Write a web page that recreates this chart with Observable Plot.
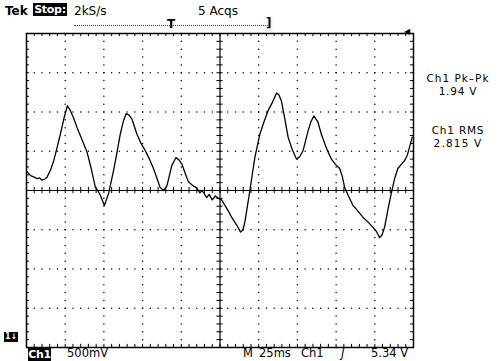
<!DOCTYPE html>
<html><head><meta charset="utf-8">
<script src="https://cdn.jsdelivr.net/npm/d3@7"></script>
<script src="https://cdn.jsdelivr.net/npm/@observablehq/plot@0.6"></script>
<style>
body{margin:0;background:#fff;}
#wrap{position:relative;width:499px;height:361px;font-family:"DejaVu Sans",sans-serif;color:#000;overflow:hidden;background:#fff}
#wrap svg{position:absolute;left:0;top:0}
.t{position:absolute;white-space:nowrap;line-height:12px;font-size:12px}
.inv{background:#000;color:#fff;font-weight:bold}
.ctr{text-align:center;width:90px;left:413px;font-size:10.5px;line-height:12.5px;height:12.5px}
</style></head>
<body><div id="wrap"></div>
<script>
// Time (ms, 25 ms/div) and Ch1 voltage relative to screen centre (V, 500 mV/div)
const timeMs = [0,2.6,5,6.9,8.5,10.1,12,13.3,15.5,17.6,19.8,21.9,24.2,26.4,28.3,30.5,32.7,36,39.1,41.8,44.5,46,47.7,50.3,53.0,56.2,58.4,60.6,62.5,64.4,66.3,68.1,71.3,74,76.7,79.4,82.0,84.2,86.3,88.5,90.7,93.9,96.6,98.5,100.3,102.5,104.6,107,110.0,112,113.5,116.4,118,120,122,123.9,126,128.2,130.3,132.5,135.8,138.3,139.8,141.1,142.7,144.3,147.5,150.8,153.5,156.1,158.8,161.5,163,164.7,166.8,169.0,171.7,174.4,176.5,178.7,181.9,183.8,185.6,188.3,190.4,192.6,194.8,197.0,199.7,202.3,204,205.5,208,210.9,214,217.3,220.5,223.8,226,228.1,229.6,231.3,233.5,235.6,237.8,239.9,242,244.2,246,247.4,249.2];
const volts = [0.25,0.19,0.17,0.15,0.16,0.13,0.15,0.17,0.26,0.38,0.55,0.72,0.92,1.08,1.02,0.92,0.80,0.64,0.49,0.28,0.04,0.0,-0.06,-0.19,-0.04,0.25,0.48,0.72,0.88,0.98,0.96,0.91,0.72,0.60,0.51,0.40,0.28,0.16,0.04,0.0,0.06,0.32,0.42,0.39,0.34,0.22,0.11,0.07,0.03,-0.03,0.0,-0.09,-0.05,-0.12,-0.07,-0.10,-0.12,-0.19,-0.26,-0.34,-0.44,-0.53,-0.50,-0.40,-0.20,0.0,0.42,0.72,0.88,1.02,1.12,1.24,1.22,1.14,0.92,0.68,0.52,0.40,0.43,0.51,0.76,0.88,0.95,0.87,0.72,0.60,0.49,0.40,0.33,0.28,0.18,0.04,-0.07,-0.19,-0.26,-0.34,-0.40,-0.47,-0.52,-0.60,-0.57,-0.47,-0.24,-0.04,0.15,0.28,0.33,0.38,0.45,0.55,0.68];

// Graticule: 10 x 8 divisions
const xMajor = d3.range(0, 251, 25);
const yMajor = d3.range(-2, 2.001, 0.5);
const xMinor = d3.range(0, 250.01, 5);
const yMinor = d3.range(-2, 2.001, 0.1);

// Readout labels
const header = {tek: "Tek", state: "Stop:", rate: "2kS/s", acqs: "5 Acqs"};
const footer = {ch: "Ch1", scale: "500mV", m: "M", tb: "25ms", trigCh: "Ch1", slope: "ʃ", level: "5.34 V"};
const meas = ["Ch1 Pk–Pk", "1.94 V", "Ch1 RMS", "2.815 V"];

const trace = timeMs.map((t, i) => ({t, v: volts[i]}));
const innerX = xMajor.filter(x => x !== 0 && x !== 125 && x !== 250);
const innerY = yMajor.filter(y => y !== -2 && y !== 0 && y !== 2);
const vDots = innerX.flatMap(x => yMinor.map(y => ({x, y})));
const hDots = innerY.flatMap(y => xMinor.map(x => ({x, y})));

const chart = Plot.plot({
  width: 499, height: 361,
  marginLeft: 26, marginRight: 86, marginTop: 33, marginBottom: 14,
  x: {domain: [0, 250], axis: null},
  y: {domain: [-2, 2], axis: null},
  style: {background: "#fff"},
  marks: [
    Plot.dot(vDots, {x: "x", y: "y", r: 0.75, fill: "#000", stroke: null}),
    Plot.dot(hDots, {x: "x", y: "y", r: 0.75, fill: "#000", stroke: null}),
    Plot.ruleX([125], {stroke: "#000", strokeWidth: 1.2}),
    Plot.ruleY([0], {stroke: "#000", strokeWidth: 1.2}),
    Plot.ruleX(xMinor, {y1: -0.04, y2: 0.04, stroke: "#000"}),
    Plot.ruleY(yMinor, {x1: 123, x2: 127, stroke: "#000"}),
    Plot.ruleX(xMinor, {y1: -2, y2: -1.96, stroke: "#000"}),
    Plot.ruleX(xMinor, {y1: 2, y2: 1.96, stroke: "#000"}),
    Plot.ruleY(yMinor, {x1: 0, x2: 2, stroke: "#000"}),
    Plot.ruleY(yMinor, {x1: 250, x2: 248, stroke: "#000"}),
    Plot.frame({stroke: "#000", strokeWidth: 1.5}),
    Plot.line(trace, {x: "t", y: "v", stroke: "#000", strokeWidth: 1.3})
  ]
});

const wrap = document.getElementById("wrap");
wrap.appendChild(chart);
function label(text, css, cls) {
  const d = document.createElement("div");
  d.className = "t " + (cls || "");
  d.textContent = text;
  d.style.cssText = css;
  wrap.appendChild(d);
  return d;
}
label(header.tek, "left:5px;top:5px;font-weight:bold;");
label(header.state, "left:33px;top:3px;height:13px;width:34px;text-align:center;font-size:11px;line-height:13px;letter-spacing:-0.3px;", "inv");
label(header.rate, "left:74px;top:5px;");
label(header.acqs, "left:198px;top:5px;");
// record bar
const bar = document.createElement("div");
bar.style.cssText = "position:absolute;left:74px;top:25px;width:194px;border-top:1px dotted #444;";
wrap.appendChild(bar);
label("T", "left:167px;top:18px;font-weight:bold;font-size:12px;");
label("]", "left:266px;top:17px;font-weight:bold;");
label("◀", "left:404px;top:28px;font-size:8px;line-height:8px;");
// ground marker
label("1↓", "left:4px;top:332px;font-size:8px;line-height:10px;height:10px;padding:0 1px;", "inv");
// footer
label(footer.ch, "left:28px;top:348px;height:13px;width:23px;text-align:center;font-size:11px;line-height:13px;letter-spacing:-0.3px;", "inv");
label(footer.scale, "left:67px;top:347px;font-size:11.5px;");
label(footer.m, "left:243px;top:347px;font-size:11.5px;");
label(footer.tb, "left:259px;top:347px;font-size:11.5px;");
label(footer.trigCh, "left:301px;top:347px;font-size:11.5px;");
label(footer.slope, "left:341px;top:347px;font-size:12px;font-style:italic;");
label(footer.level, "left:371px;top:347px;font-size:11.5px;");
// measurements
label(meas[0], "top:72.1px;letter-spacing:1px;", "ctr");
label(meas[1], "top:84.6px;letter-spacing:0.8px;", "ctr");
label(meas[2], "top:124.1px;letter-spacing:0.8px;", "ctr");
label(meas[3], "top:136.6px;letter-spacing:1.2px;", "ctr");
</script>
</body></html>
